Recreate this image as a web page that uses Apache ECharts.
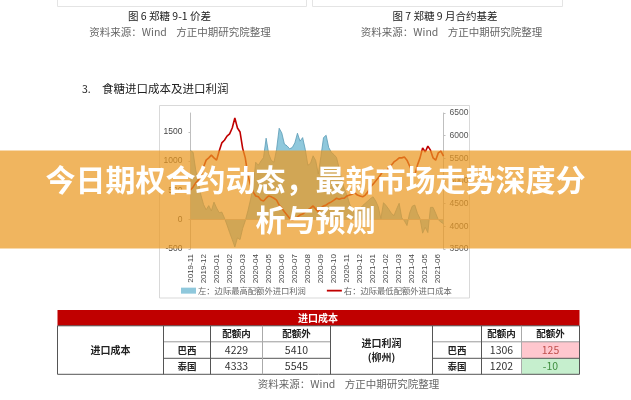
<!DOCTYPE html>
<html>
<head>
<meta charset="utf-8">
<title>今日期权合约动态</title>
<style>
html, body { margin: 0; padding: 0; background: #fff; }
#main { width: 631px; height: 400px; }
</style>
<script src="https://cdn.jsdelivr.net/npm/echarts@6/dist/echarts.min.js"></script>
</head>
<body>
<div id="main"></div>
<script>
var CJK = '"Noto Sans CJK SC", sans-serif';

// 月份标签，每月 5 个点
var months = ['2019-11','2019-12','2020-01','2020-02','2020-03','2020-04','2020-05','2020-06','2020-07','2020-08',
  '2020-09','2020-10','2020-11','2020-12','2021-01','2021-02','2021-03','2021-04','2021-05','2021-06'];
var pointsPerMonth = 5;

// 左：边际最高配额外进口利润
var profitName = '左：边际最高配额外进口利润';
var profit = [1180,1150,850,650,420,260,170,240,150,300,
  200,120,130,30,-90,-220,-340,-465,-310,-340,
  -150,-20,150,340,560,980,930,1000,1060,1390,
  1120,1010,980,1200,1560,1480,1290,1260,1210,1230,
  1310,1475,1340,1400,1200,930,960,1090,1010,780,
  1080,1400,1440,1230,1150,1110,1060,880,680,520,
  420,270,170,120,130,190,240,280,320,360,
  390,320,220,20,290,240,180,110,70,180,
  280,30,-20,-100,110,230,250,110,20,-230,
  -130,-220,210,210,110,0,-40,-70];

// 右：边际最低配额外进口成本
var costName = '右：边际最低配额外进口成本';
var cost = [4800,4870,4960,5020,5110,5310,5460,5510,5570,5510,
  5460,5660,5840,5900,5990,6040,6170,6390,6170,6080,
  5720,5510,5130,4910,4760,4670,4650,4580,4560,4620,
  4670,4650,4620,4580,4470,4400,4320,4250,4180,4140,
  4160,4210,4250,4270,4320,4360,4400,4450,4380,4320,
  4400,4450,4470,4510,4540,4580,4620,4600,4620,4620,
  4670,4690,4710,4740,4690,4670,4650,4690,4760,4870,
  4930,5000,5070,5150,5240,5200,5290,5350,5420,5460,
  5510,5510,5530,5460,5330,5200,5130,5350,5510,5730,
  5640,5770,5680,5510,5460,5620,5660,5550];

// 表格
var tableTitle = '进口成本';
var costTitle = '进口成本';
var profitTitle = ['进口利润', '(柳州)'];
var quotaHeads = ['配额内', '配额外'];
var origins = ['巴西', '泰国'];
var costRows = [['4229', '5410'], ['4333', '5545']];
var profitRows = [['1306', '125'], ['1202', '-10']];

// 文字
var bannerLines = ['今日期权合约动态，最新市场走势深度分', '析与预测'];
var sourceText = '资料来源：Wind    方正中期研究院整理';

var xData = [];
for (var i = 0; i < profit.length; i++) {
  xData.push(i % pointsPerMonth === 0 ? (months[i / pointsPerMonth] || '') : '');
}

function txt(str, x, y, size, color, weight, align) {
  return {
    type: 'text', z: 10,
    style: {
      text: str, x: x, y: y, fontSize: size, fill: color || '#222', fontWeight: weight || 'normal',
      fontFamily: CJK, align: align || 'center', verticalAlign: 'middle'
    }
  };
}
function box(x, y, w, h, fill, stroke) {
  return { type: 'rect', z: 5, shape: { x: x, y: y, width: w, height: h },
    style: { fill: fill || 'none', stroke: stroke || null, lineWidth: 1 } };
}
function seg(x1, y1, x2, y2, color) {
  return { type: 'line', z: 8, shape: { x1: x1, y1: y1, x2: x2, y2: y2 },
    style: { stroke: color || '#555', lineWidth: 1 } };
}

var g = [];

// 上方两张图的边框残留
g.push(seg(57.5, 0, 57.5, 6.5, '#e4e4e4'), seg(57.5, 6.5, 306.5, 6.5, '#e4e4e4'), seg(306.5, 0, 306.5, 6.5, '#e4e4e4'));
g.push(seg(312.5, 0, 312.5, 6.5, '#e4e4e4'), seg(312.5, 6.5, 562.5, 6.5, '#e4e4e4'), seg(562.5, 0, 562.5, 6.5, '#e4e4e4'));
g.push(txt('图 6 郑糖 9-1 价差', 169.5, 16, 10.5, '#222'));
g.push(txt(sourceText, 180, 32, 10.5, '#666'));
g.push(txt('图 7 郑糖 9 月合约基差', 445, 16, 10.5, '#222'));
g.push(txt(sourceText, 451.5, 32, 10.5, '#666'));
g.push(txt('3.', 82, 89, 10.5, '#222', 'normal', 'left'));
g.push(txt('食糖进口成本及进口利润', 102, 89, 11.5, '#222', 'normal', 'left'));

// 图表外框
g.push(box(159.5, 105.5, 310, 192.5, 'none', '#d9d9d9'));

// 表格
var colX = [57.5, 163.5, 210.5, 262.5, 330.5, 432.5, 481.5, 521.5, 579.5];
var rowY = [310, 325.8, 341.8, 358.3, 374.3];
g.push(box(colX[0], rowY[0], colX[8] - colX[0], rowY[1] - rowY[0], '#C00000'));
g.push(txt(tableTitle, 318, (rowY[0] + rowY[1]) / 2, 10, '#fff', 'bold'));
g.push(box(colX[7], rowY[2], colX[8] - colX[7], rowY[3] - rowY[2], '#FFC7CE'));
g.push(box(colX[7], rowY[3], colX[8] - colX[7], rowY[4] - rowY[3], '#C6EFCE'));

g.push(seg(colX[0], rowY[1], colX[8], rowY[1], '#555'));
g.push(seg(colX[0], rowY[4], colX[8], rowY[4], '#555'));
g.push(seg(colX[1], rowY[2], colX[4], rowY[2], '#999'));
g.push(seg(colX[5], rowY[2], colX[8], rowY[2], '#999'));
g.push(seg(colX[1], rowY[3], colX[4], rowY[3], '#555'));
g.push(seg(colX[5], rowY[3], colX[8], rowY[3], '#555'));
[0, 1, 2, 4, 5, 6, 8].forEach(function (c) {
  g.push(seg(colX[c], rowY[1], colX[c], rowY[4], '#555'));
});
g.push(seg(colX[3], rowY[1], colX[3], rowY[4], '#aaa'));
g.push(seg(colX[7], rowY[1], colX[7], rowY[4], '#aaa'));

g.push(txt(costTitle, (colX[0] + colX[1]) / 2, 350, 10, '#222', 'bold'));
g.push(txt(profitTitle[0], (colX[4] + colX[5]) / 2, 343, 10, '#222', 'bold'));
g.push(txt(profitTitle[1], (colX[4] + colX[5]) / 2, 357, 10, '#222', 'bold'));

var rowMid = [(rowY[1] + rowY[2]) / 2, (rowY[2] + rowY[3]) / 2, (rowY[3] + rowY[4]) / 2];
g.push(txt(quotaHeads[0], (colX[2] + colX[3]) / 2, rowMid[0], 9.5, '#222', 'bold'));
g.push(txt(quotaHeads[1], (colX[3] + colX[4]) / 2, rowMid[0], 9.5, '#222', 'bold'));
g.push(txt(quotaHeads[0], (colX[6] + colX[7]) / 2, rowMid[0], 9.5, '#222', 'bold'));
g.push(txt(quotaHeads[1], (colX[7] + colX[8]) / 2, rowMid[0], 9.5, '#222', 'bold'));
origins.forEach(function (name, r) {
  g.push(txt(name, (colX[1] + colX[2]) / 2, rowMid[r + 1], 9.5, '#222', 'bold'));
  g.push(txt(name, (colX[5] + colX[6]) / 2, rowMid[r + 1], 9.5, '#222', 'bold'));
  g.push(txt(costRows[r][0], (colX[2] + colX[3]) / 2, rowMid[r + 1], 10.5, '#333'));
  g.push(txt(costRows[r][1], (colX[3] + colX[4]) / 2, rowMid[r + 1], 10.5, '#333'));
  g.push(txt(profitRows[r][0], (colX[6] + colX[7]) / 2, rowMid[r + 1], 10.5, '#333'));
  g.push(txt(profitRows[r][1], (colX[7] + colX[8]) / 2, rowMid[r + 1], 10.5, r === 0 ? '#C0504D' : '#3F8F3F'));
});
g.push(txt(sourceText, 348.5, 384, 10.5, '#666'));

// 横幅，半透明盖在图上
g.push({ type: 'rect', z: 100, shape: { x: 0, y: 150.5, width: 631, height: 98 },
  style: { fill: 'rgba(234,152,33,0.72)' } });
bannerLines.forEach(function (line, k) {
  g.push({
    type: 'text', z: 101,
    style: {
      text: line, x: 315.5, y: 180 + k * 40, fontSize: 30, fontWeight: 'bold', fill: '#fff',
      fontFamily: CJK, align: 'center', verticalAlign: 'middle',
      shadowColor: 'rgba(0,0,0,0.3)', shadowBlur: 4, shadowOffsetX: 2, shadowOffsetY: 2
    }
  });
});

function plain(v) { return String(v); }

var myChart = echarts.init(document.getElementById('main'));
var option = {
  animation: false,
  backgroundColor: '#fff',
  grid: { left: 190.5, right: 187.5, top: 113, bottom: 151, containLabel: false },
  legend: {
    left: 176, top: 281.5, itemWidth: 15, itemHeight: 6, itemGap: 21,
    textStyle: { fontSize: 8.3, color: '#666', fontFamily: CJK, padding: [0, 0, 0, -3] },
    data: [
      { name: profitName, icon: 'rect' },
      { name: costName, icon: 'path://M0,44H100V56H0Z' }
    ]
  },
  xAxis: {
    type: 'category', data: xData, boundaryGap: false,
    axisLine: { onZero: false, show: false },
    axisTick: { show: false },
    axisLabel: { interval: 0, rotate: 90, fontSize: 8, color: '#444', margin: 5, fontFamily: 'Liberation Sans' }
  },
  yAxis: [
    {
      type: 'value', min: -500, max: 1820, interval: 500, splitLine: { show: false },
      axisLine: { show: true, lineStyle: { color: '#bfbfbf' } },
      axisTick: { show: true, length: 2, lineStyle: { color: '#bfbfbf' } },
      axisLabel: { fontSize: 8.5, color: '#444', margin: 8, showMaxLabel: false, fontFamily: 'Liberation Sans', formatter: plain }
    },
    {
      type: 'value', min: 3500, max: 6500, interval: 500, position: 'right', splitLine: { show: false },
      axisLine: { show: true, lineStyle: { color: '#bfbfbf' } },
      axisTick: { show: true, length: 2, lineStyle: { color: '#bfbfbf' } },
      axisLabel: { fontSize: 8.5, color: '#555', margin: 6, fontFamily: 'Liberation Sans', formatter: plain }
    }
  ],
  graphic: { elements: g },
  series: [
    {
      name: profitName, type: 'line', yAxisIndex: 0, data: profit, symbol: 'none',
      itemStyle: { color: '#8FC8DC' },
      lineStyle: { color: '#5B9BB5', width: 0.8 },
      areaStyle: { color: '#8FC8DC', opacity: 1 },
      markLine: {
        silent: true, symbol: 'none', label: { show: false },
        lineStyle: { color: '#bfbfbf', width: 1, type: 'solid' },
        data: [{ yAxis: 0 }]
      }
    },
    {
      name: costName, type: 'line', yAxisIndex: 1, data: cost, symbol: 'none',
      itemStyle: { color: '#C00000' },
      lineStyle: { color: '#C00000', width: 1.6 }
    }
  ]
};
myChart.setOption(option);
</script>
</body>
</html>
